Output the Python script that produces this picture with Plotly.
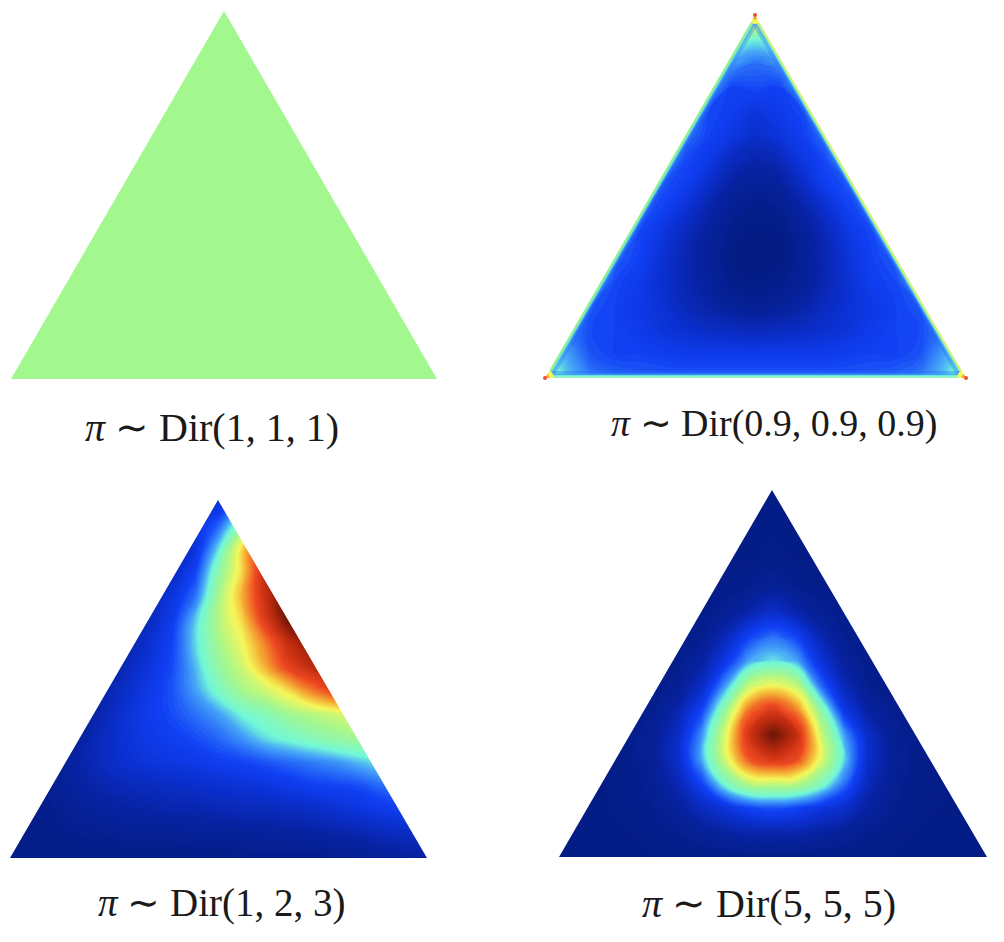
import numpy as np
import plotly.graph_objects as go

W, H = 1004, 942

# density, as a 0-1 position on the colour bar, rows top to bottom
UNIFORM = [[0.5, 0.5],
           [0.5, 0.5]]

SPARSE = [
    [.6, .6, .6, .6, .6, .6, .6, .6, .65, .7, .65, .6, .6, .6, .6, .6, .6, .6, .6],
    [.6, .6, .6, .6, .6, .6, .6, .6, .5, .4, .5, .6, .6, .6, .6, .6, .6, .6, .6],
    [.6, .6, .6, .6, .6, .6, .6, .5, .34, .3, .33, .5, .6, .6, .6, .6, .6, .6, .6],
    [.5, .5, .5, .5, .5, .5, .5, .35, .25, .26, .25, .35, .5, .5, .5, .5, .5, .5, .5],
    [.5, .5, .5, .5, .5, .5, .4, .26, .24, .2, .23, .26, .4, .5, .5, .5, .5, .5, .5],
    [.5, .5, .5, .5, .5, .45, .3, .25, .21, .17, .2, .24, .3, .45, .5, .5, .5, .5, .5],
    [.5, .5, .5, .5, .5, .35, .26, .22, .15, .12, .14, .21, .26, .35, .5, .5, .5, .5, .5],
    [.5, .5, .5, .5, .4, .27, .24, .17, .1, .08, .09, .16, .24, .27, .4, .5, .5, .5, .5],
    [.5, .5, .5, .45, .28, .25, .19, .12, .07, .05, .06, .11, .18, .25, .28, .45, .5, .5, .5],
    [.5, .5, .5, .35, .26, .21, .15, .09, .05, .03, .04, .08, .14, .22, .26, .35, .5, .5, .5],
    [.5, .5, .45, .28, .25, .19, .13, .08, .04, .02, .03, .07, .13, .2, .25, .28, .45, .5, .5],
    [.5, .5, .35, .26, .23, .18, .13, .09, .05, .04, .05, .08, .13, .19, .24, .26, .35, .5, .5],
    [.5, .42, .27, .25, .22, .19, .14, .11, .08, .07, .08, .11, .15, .19, .22, .25, .27, .42, .5],
    [.45, .31, .26, .25, .23, .2, .18, .16, .15, .14, .15, .16, .18, .2, .23, .25, .26, .31, .45],
    [.42, .34, .27, .25, .25, .24, .23, .23, .23, .23, .23, .23, .23, .24, .25, .25, .27, .34, .42],
    [.5, .37, .31, .29, .28, .28, .28, .28, .28, .28, .28, .28, .28, .28, .28, .29, .31, .37, .5],
]

SKEWED = [
    [.1, .1, .1, .1, .1, .1, .1, .1, .15, .18, .3, .4, .4, .4, .4, .4, .4, .4, .4],
    [.1, .1, .1, .1, .1, .1, .1, .12, .2, .28, .45, .6, .6, .6, .6, .6, .6, .6, .6],
    [.08, .08, .08, .08, .08, .08, .1, .12, .2, .38, .62, .85, .9, .9, .9, .9, .9, .9, .9],
    [.08, .08, .08, .08, .08, .08, .1, .15, .25, .46, .63, .88, .95, .95, .95, .95, .95, .95, .95],
    [.08, .08, .08, .08, .08, .08, .13, .2, .3, .5, .67, .86, 1, 1, 1, 1, 1, 1, 1],
    [.06, .06, .06, .06, .06, .1, .15, .23, .37, .52, .63, .82, .98, 1, 1, 1, 1, 1, 1],
    [.06, .06, .06, .06, .07, .12, .18, .25, .38, .5, .59, .72, .87, .95, .95, .95, .95, .95, .95],
    [.05, .05, .05, .05, .09, .14, .2, .26, .36, .47, .55, .67, .8, .88, .92, .92, .92, .92, .92],
    [.05, .05, .05, .06, .11, .17, .22, .27, .34, .42, .5, .55, .62, .72, .8, .85, .85, .85, .85],
    [.05, .05, .05, .08, .13, .19, .23, .26, .3, .34, .4, .44, .49, .52, .55, .58, .58, .58, .58],
    [.05, .05, .05, .1, .15, .19, .22, .24, .26, .29, .33, .38, .41, .44, .47, .49, .5, .5, .5],
    [.04, .04, .07, .11, .15, .18, .2, .21, .22, .24, .25, .27, .29, .31, .33, .36, .39, .4, .4],
    [.04, .05, .07, .1, .12, .14, .15, .16, .17, .18, .19, .2, .22, .24, .25, .26, .29, .31, .32],
    [.04, .05, .06, .08, .09, .1, .11, .12, .12, .13, .14, .14, .15, .16, .18, .2, .22, .24, .25],
    [.04, .05, .05, .06, .06, .07, .07, .07, .08, .08, .08, .09, .09, .1, .11, .12, .14, .15, .16],
    [.05, .04, .04, .04, .04, .04, .04, .04, .04, .04, .05, .05, .05, .05, .06, .07, .08, .09, .1],
]

PEAKED = [
    [.04] * 19,
    [.04] * 19,
    [.04] * 19,
    [.04, .04, .04, .04, .04, .04, .04, .04, .04, .05, .04, .04, .04, .04, .04, .04, .04, .04, .04],
    [.04, .04, .04, .04, .04, .04, .04, .05, .06, .08, .06, .05, .04, .04, .04, .04, .04, .04, .04],
    [.04, .04, .04, .04, .04, .04, .05, .07, .12, .17, .12, .07, .05, .04, .04, .04, .04, .04, .04],
    [.04, .04, .04, .04, .04, .05, .06, .14, .25, .3, .25, .13, .06, .05, .04, .04, .04, .04, .04],
    [.04, .04, .04, .04, .04, .05, .1, .22, .35, .39, .35, .2, .09, .05, .04, .04, .04, .04, .04],
    [.04, .04, .04, .04, .05, .07, .16, .34, .54, .6, .54, .3, .14, .06, .05, .04, .04, .04, .04],
    [.04, .04, .04, .04, .06, .12, .25, .48, .74, .83, .72, .47, .22, .1, .06, .04, .04, .04, .04],
    [.04, .04, .04, .05, .08, .16, .33, .57, .85, .98, .87, .56, .34, .16, .07, .05, .04, .04, .04],
    [.04, .04, .04, .05, .08, .17, .35, .56, .77, .84, .79, .58, .38, .17, .08, .05, .04, .04, .04],
    [.04, .04, .04, .05, .07, .13, .25, .42, .53, .54, .53, .44, .3, .14, .07, .05, .04, .04, .04],
    [.04, .04, .04, .05, .06, .09, .15, .2, .25, .27, .25, .21, .17, .1, .06, .05, .04, .04, .04],
    [.04, .04, .04, .04, .05, .06, .08, .1, .12, .12, .12, .1, .08, .06, .05, .04, .04, .04, .04],
    [.04] * 19,
]

CAPTIONS = ["<i>π</i> ∼ Dir(1, 1, 1)", "<i>π</i> ∼ Dir(0.9, 0.9, 0.9)",
            "<i>π</i> ∼ Dir(1, 2, 3)", "<i>π</i> ∼ Dir(5, 5, 5)"]

JET = [[0, "#031877"], [.1, "#0722a0"], [.18, "#0b30d0"], [.25, "#1040f5"],
       [.3, "#2a70f8"], [.35, "#48a8f8"], [.4, "#72f8d8"], [.5, "#a3f78f"],
       [.6, "#f5f75a"], [.68, "#f5a833"], [.78, "#ee4a22"], [.88, "#c02c10"],
       [1, "#5a1005"]]

# left, right, apex x, top, bottom of each triangle, caption centre x, y and size (pixels)
PANELS = [
    (UNIFORM, 11, 437, 224, 11, 379, 212, 427, 40),
    (SPARSE, 545, 966, 755, 15, 378, 774, 423, 38),
    (SKEWED, 10, 427, 218, 500, 858, 222, 903, 39),
    (PEAKED, 559, 987, 772, 490, 857, 769, 903, 40),
]

fig = go.Figure()
layout = {}
for i, (z, left, right, apex, top, bottom, cap_x, cap_y, cap_size) in enumerate(PANELS):
    n = "" if i == 0 else str(i + 1)
    ax, ay = "x" + n, "y" + n
    layout["xaxis" + n] = dict(domain=[left / W, right / W], range=[0, 1], visible=False, fixedrange=True)
    layout["yaxis" + n] = dict(domain=[1 - bottom / H, 1 - top / H], range=[0, 1], visible=False, fixedrange=True)

    peak = (apex - left) / (right - left)
    if z is UNIFORM:
        fig.add_trace(go.Heatmap(
            z=z, x=[0, 1], y=[0, 1], zmin=0, zmax=1, colorscale=JET, showscale=False,
            hoverinfo="skip", xaxis=ax, yaxis=ay,
        ))
    else:
        # many thin filled bands, smoothed, give the soft look of the original
        fig.add_trace(go.Contour(
            z=z[::-1], x=np.linspace(0, 1, len(z[0])), y=np.linspace(0, 1, len(z)),
            zmin=0, zmax=1, colorscale=JET, showscale=False,
            contours=dict(coloring="fill", start=0, end=1, size=0.01, showlines=False),
            line=dict(width=0, smoothing=1.3),
            hoverinfo="skip", xaxis=ax, yaxis=ay,
        ))

    if z is SPARSE:
        # the thin bright rim along each side
        sides = [([0, peak], [0, 1], "#90f090"), ([peak, 1], [1, 0], "#d0f070"), ([0, 1], [0, 0], "#90f5c0")]
        for xs, ys, colour in sides:
            for width, c, alpha in [(14, "#2a70f8", .35), (9, "#48a8f8", .6), (6, "#72f8d8", .8), (4, colour, 1)]:
                fig.add_trace(go.Scatter(
                    x=xs, y=ys, mode="lines", line=dict(color=c, width=width), opacity=alpha,
                    hoverinfo="skip", showlegend=False, xaxis=ax, yaxis=ay,
                ))
        # yellow and orange tips, cut by the white mask below
        for size, c in [(18, "#f5f75a"), (9, "#f5a833")]:
            fig.add_trace(go.Scatter(
                x=[0, peak, 1], y=[0, 1, 0], mode="markers",
                marker=dict(color=c, size=size, line=dict(width=0)),
                hoverinfo="skip", showlegend=False, xaxis=ax, yaxis=ay,
            ))

    # white outside the triangle
    fig.add_trace(go.Scatter(
        x=[0, 0, peak, 0, None, 1, 1, peak, 1], y=[0, 1, 1, 0, None, 0, 1, 1, 0],
        mode="lines", fill="toself", fillcolor="white", line=dict(color="white", width=0),
        hoverinfo="skip", showlegend=False, xaxis=ax, yaxis=ay,
    ))

    if z is SPARSE:
        fig.add_trace(go.Scatter(
            x=[0, peak, 1], y=[0, 1, 0], mode="markers", cliponaxis=False,
            marker=dict(color="#ee5030", size=4, line=dict(width=0)),
            hoverinfo="skip", showlegend=False, xaxis=ax, yaxis=ay,
        ))

annotations = [
    dict(text=CAPTIONS[i], x=p[6] / W, y=1 - p[7] / H, xref="paper", yref="paper",
         showarrow=False, xanchor="center", yanchor="middle",
         font=dict(family="Liberation Serif", size=p[8], color="#1a1a1a"))
    for i, p in enumerate(PANELS)
]

fig.update_layout(
    width=W, height=H, margin=dict(l=0, r=0, t=0, b=0),
    paper_bgcolor="white", plot_bgcolor="white", showlegend=False,
    annotations=annotations, **layout,
)

fig.write_html("out.html", post_script="document.body.style.margin='0';", config={"displayModeBar": False})
